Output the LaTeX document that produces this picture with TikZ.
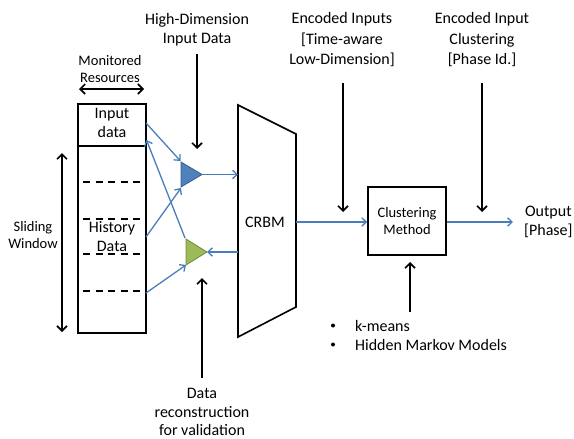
\documentclass[tikz,border=0pt]{standalone}
\usepackage{fontspec}
\setmainfont{Carlito}
\usetikzlibrary{arrows.meta}
\definecolor{lineblue}{HTML}{4A7EBB}
\definecolor{triblue}{HTML}{4F81BD}
\definecolor{triblueedge}{HTML}{385D8A}
\definecolor{trigreen}{HTML}{9BBB59}
\definecolor{trigreenedge}{HTML}{71893F}
\begin{document}
\begin{tikzpicture}[x=1pt,y=-1pt,
  lbl/.style={font=\fontsize{16}{19}\selectfont, align=center, inner sep=0pt},
  small/.style={font=\fontsize{14.5}{16.5}\selectfont, align=center, inner sep=0pt},
  blk/.style={draw=black, line width=1.6pt, -{Straight Barb[length=5pt,width=10pt]}},
  dblk/.style={draw=black, line width=1.6pt, {Straight Barb[length=5pt,width=10pt]}-{Straight Barb[length=5pt,width=10pt]}},
  blu/.style={draw=lineblue, line width=1.3pt, -{Straight Barb[length=4.5pt,width=8.5pt]}},
  frame/.style={draw=black, line width=1.6pt},
  slot/.style={draw=black, line width=1.4pt, dash pattern=on 7pt off 5.5pt},
  dot/.style={fill=black, circle, inner sep=0pt, minimum size=4pt},
  ]
\useasboundingbox (0,0) rectangle (574,439);

% resource window: input slot and history slots
\node[frame, minimum width=68pt, minimum height=42pt, inner sep=0pt] (inbox) at (112,125) {};
\node[frame, minimum width=68pt, minimum height=187pt, inner sep=0pt] (hist) at (112,239.5) {};
\foreach \yy/\nm in {182/s1,219/s2,254/s3,291/s4}
  \draw[slot] (83,\yy) coordinate (\nm w) -- (140,\yy) coordinate (\nm e);
\node[lbl] (intxt) at (112,123) {Input\\data};
\node[lbl] (histtxt) at (112,237) {History\\Data};

% dimension labels
\node[small] (monres) at (110,69) {Monitored\\Resources};
\coordinate (mrl) at (79,89);
\coordinate (mrr) at (144,89);
\draw[dblk] (mrl) -- (mrr);
\node[small] (slide) at (33,235) {Sliding\\Window};
\coordinate (swt) at (62,153);
\coordinate (swb) at (62,332);
\draw[dblk] (swt) -- (swb);

% encoder / decoder triangles
\draw[fill=triblue, draw=triblueedge, line width=0.8pt] (181,162) coordinate (btop) -- (202,174.5) coordinate (btip) -- (181,187) coordinate (bbot) -- cycle;
\draw[fill=trigreen, draw=trigreenedge, line width=0.8pt] (186,239) coordinate (gtop) -- (207,252) coordinate (gtip) -- (186,265) coordinate (gbot) -- cycle;

% CRBM block
\draw[frame] (238,105) coordinate (ctl) -- (296,134) coordinate (ctr) -- (296,307) coordinate (cbr) -- (238,337) coordinate (cbl) -- cycle;
\node[lbl] (crbm) at (265,222) {CRBM};
\coordinate (cin) at (238,174.5);
\coordinate (cout) at (238,252);
\coordinate (cright) at (296,222);

% data flow
\coordinate (inout) at (146,123);
\coordinate (inret) at (146.5,140);
\coordinate (histout) at (146,237);
\coordinate (s4out) at (146,293);
\draw[blu] (inout) -- ([shift={(-0.5,-1)}]btop);
\draw[blu] (histout) -- ([shift={(0,1)}]bbot);
\draw[blu] ([shift={(-1,-1)}]gtop) -- (inret);
\draw[blu] (s4out) -- (gbot);
\draw[blu] (btip) -- (cin);
\draw[blu] (cout) -- (gtip);

% clustering stage
\node[frame, small, minimum width=78pt, minimum height=68pt] (clust) at (407,221) {Clustering\\Method};
\draw[blu] (cright) -- (clust.west |- cright);
\coordinate (outend) at (513,222);
\draw[blu] (clust.east |- cright) -- (outend);
\node[lbl, anchor=west] (output) at (524,222) {Output\\{[Phase]}};

% top annotations
\node[lbl] (hd) at (197,29.5) {High-Dimension\\Input Data};
\coordinate (hdend) at (197,149);
\draw[blk] (197,54) -- (hdend);
\node[lbl, font=\fontsize{16}{20.5}\selectfont] (enc) at (342,40) {Encoded Inputs\\{[Time-aware}\\Low-Dimension]};
\coordinate (encend) at (343,212);
\draw[blk] (343,83) -- (encend);
\node[lbl, font=\fontsize{16}{20.5}\selectfont] (encc) at (482,40) {Encoded Input\\Clustering\\{[Phase Id.]}};
\coordinate (enccend) at (482,212);
\draw[blk] (482,83) -- (enccend);

% clustering methods
\coordinate (kmstart) at (410,312);
\draw[blk] (kmstart) -- (410,262);
\node[dot] (b1) at (333,325.5) {};
\node[lbl, anchor=base west] (km) at (355,331.5) {k-means};
\node[dot] (b2) at (333,344.5) {};
\node[lbl, anchor=base west] (hmm) at (355,350.5) {Hidden Markov Models};

% reconstruction annotation
\node[lbl, font=\fontsize{16}{18.5}\selectfont] (recon) at (202,412) {Data\\reconstruction\\for validation};
\coordinate (reconend) at (202,278);
\draw[blk] (202,378) -- (reconend);
\end{tikzpicture}
\end{document}
